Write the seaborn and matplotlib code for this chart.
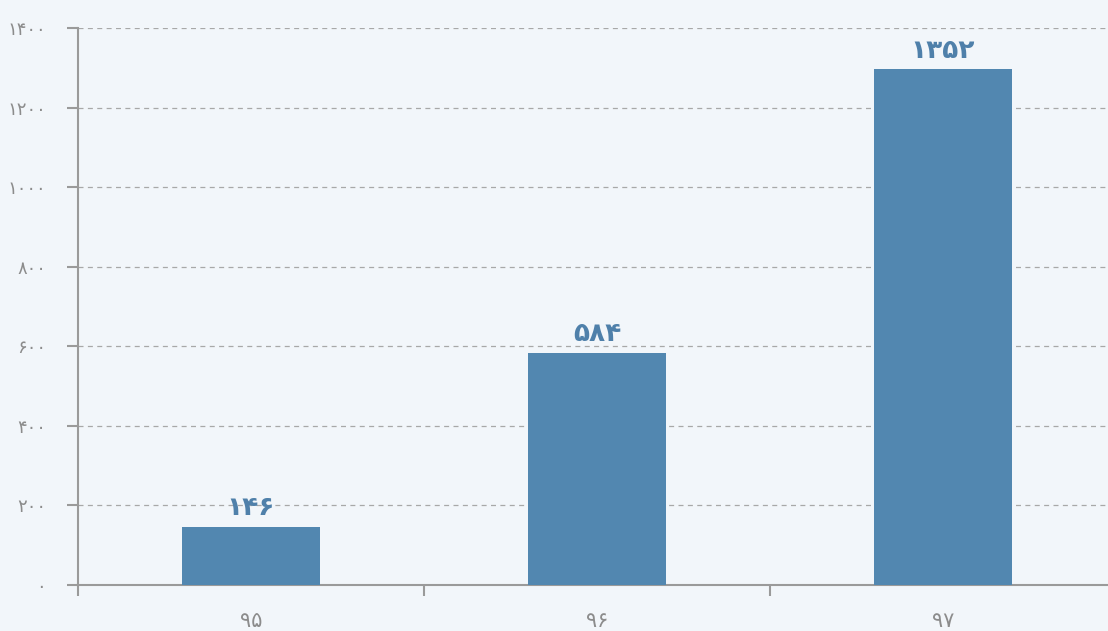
import matplotlib
matplotlib.use("Agg")
import matplotlib.pyplot as plt
import seaborn as sns
import pandas as pd

years = ["۹۵", "۹۶", "۹۷"]
bar_values = [146, 584, 1296]
value_labels = ["۱۴۶", "۵۸۴", "۱۳۵۲"]
y_ticks = [0, 200, 400, 600, 800, 1000, 1200, 1400]
y_tick_labels = ["۰", "۲۰۰", "۴۰۰", "۶۰۰", "۸۰۰", "۱۰۰۰", "۱۲۰۰", "۱۴۰۰"]

bg = "#f2f6fa"
bar_color = "#5287b0"
label_color = "#4f80aa"
axis_color = "#9a9a9a"
tick_text = "#8c8c8c"

sns.set_theme(style="white")
plt.rcParams["font.family"] = ["DejaVu Sans"]

fig = plt.figure(figsize=(11.08, 6.31), dpi=100, facecolor=bg)
ax = fig.add_axes([78 / 1108, 46 / 631, 1 - 78 / 1108, (585 - 28) / 631])
ax.set_facecolor(bg)

df = pd.DataFrame({"year": years, "value": bar_values})
sns.barplot(data=df, x="year", y="value", color=bar_color, width=0.4,
            saturation=1, ax=ax, zorder=3, linewidth=0, edgecolor=bar_color)

ax.set_xlim(-0.5, 2.477)
ax.set_ylim(0, 1400)

ax.set_yticks(y_ticks)
ax.set_yticklabels(y_tick_labels)
ax.yaxis.grid(True, linestyle=(0, (4, 3.5)), color="#a8a8a8", linewidth=0.9, zorder=0)
ax.xaxis.grid(False)

ax.set_xticks([-0.5, 0.5, 1.5])
ax.set_xticklabels([])
ax.set_xticks([0, 1, 2], minor=True)
ax.set_xticklabels(years, minor=True)
ax.tick_params(axis="x", which="major", bottom=True, length=8, width=1.5,
               color=axis_color, direction="out")
ax.tick_params(axis="x", which="minor", bottom=True, length=0, pad=19,
               labelsize=15, labelcolor=tick_text)
ax.tick_params(axis="y", left=True, length=8, width=1.5, color=axis_color, direction="out",
               labelsize=13, labelcolor=tick_text, pad=15)
ax.set_xlabel("")
ax.set_ylabel("")

for s in ["top", "right"]:
    ax.spines[s].set_visible(False)
for s in ["left", "bottom"]:
    ax.spines[s].set_color(axis_color)
    ax.spines[s].set_linewidth(1.5)

for i, (v, lab) in enumerate(zip(bar_values, value_labels)):
    ax.annotate(lab, xy=(i, v), xytext=(0, 4), textcoords="offset points",
                ha="center", va="bottom", fontsize=19, fontweight="bold",
                color=label_color, zorder=5)

fig.savefig("out.png", dpi=100, facecolor=bg)
